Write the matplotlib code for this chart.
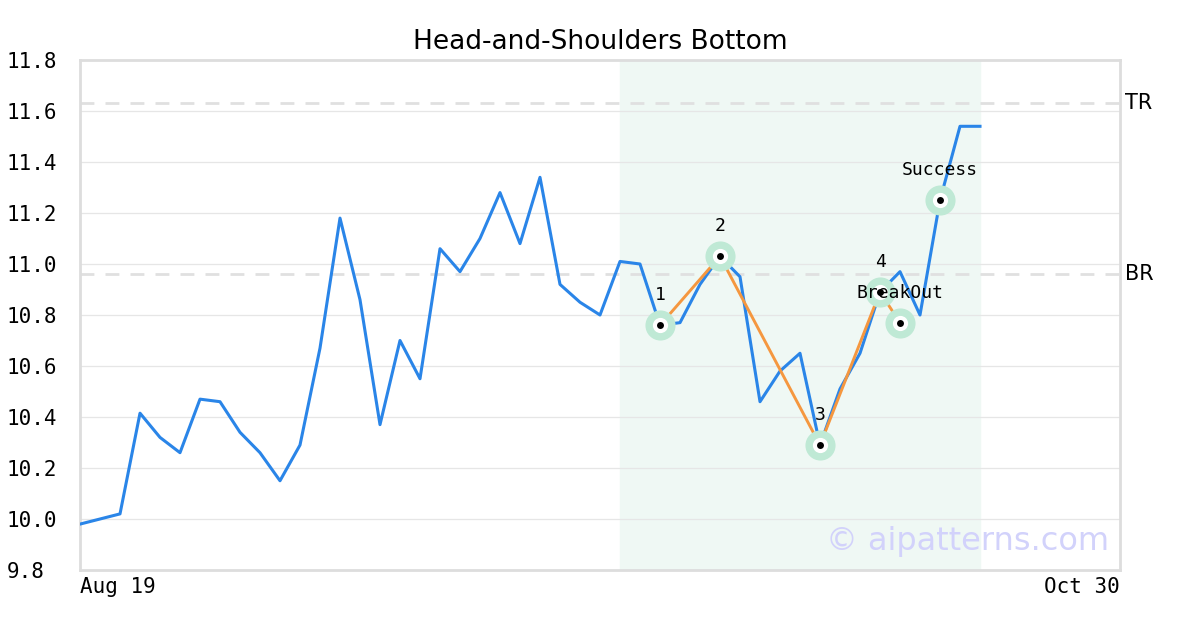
import matplotlib.pyplot as plt

# Price series (trading-day index, index 1 is absent in the source)
day_idx = [0] + list(range(2, 46))
price = [9.98, 10.02, 10.415, 10.32, 10.26, 10.47, 10.46, 10.34, 10.26, 10.15,
         10.29, 10.67, 11.18, 10.86, 10.37, 10.70, 10.55, 11.06, 10.97, 11.10,
         11.28, 11.08, 11.34, 10.92, 10.85, 10.80, 11.01, 11.00, 10.76, 10.77,
         10.92, 11.03, 10.95, 10.46, 10.58, 10.65, 10.29, 10.51, 10.65, 10.89,
         10.97, 10.80, 11.25, 11.54, 11.54]

# Pattern pivots
pivot_idx = [29, 32, 37, 40, 41]
pivot_val = [10.76, 11.03, 10.29, 10.89, 10.77]
pivot_lbl = ['1', '2', '3', '4', 'BreakOut']
success_idx = 43
success_val = 11.25

# Pattern window and resistance levels
window = (27, 45)
top_res = 11.63
break_res = 10.96

x_span = (0, 52)
x_labels = ['Aug 19', 'Oct 30']
y_ticks = [9.8, 10.0, 10.2, 10.4, 10.6, 10.8, 11.0, 11.2, 11.4, 11.6, 11.8]

fig = plt.figure(figsize=(12, 6.3), dpi=100)
ax = fig.add_axes([80/1200, 1 - 570/630, 1040/1200, 510/630])

ax.axvspan(window[0], window[1], color='#eff8f4', zorder=0)
ax.axhline(top_res, color='#e0e0e0', lw=2, ls=(0, (5, 4)), zorder=1)
ax.axhline(break_res, color='#e0e0e0', lw=2, ls=(0, (5, 4)), zorder=1)

ax.plot(day_idx, price, color='#2a85e8', lw=2.2, zorder=3)
ax.plot(pivot_idx, pivot_val, color='#f5973f', lw=2.1, zorder=4)

mk_x = pivot_idx + [success_idx]
mk_y = pivot_val + [success_val]
ax.scatter(mk_x, mk_y, s=470, color='#bfe9d5', zorder=5, linewidths=0)
ax.scatter(mk_x, mk_y, s=120, color='white', zorder=6, linewidths=0)
ax.scatter(mk_x, mk_y, s=25, color='black', zorder=7, linewidths=0)

for xi, yi, t in zip(mk_x, mk_y, pivot_lbl + ['Success']):
    ax.annotate(t, (xi, yi), xytext=(0, 21.6), textcoords='offset points',
                ha='center', va='center', fontsize=13,
                family='DejaVu Sans Mono', zorder=8)

ax.text(1.005, top_res, 'TR', transform=ax.get_yaxis_transform(),
        ha='left', va='center', fontsize=15)
ax.text(1.005, break_res, 'BR', transform=ax.get_yaxis_transform(),
        ha='left', va='center', fontsize=15)

ax.text(0.99, 0.055, '\u00a9 aipatterns.com', transform=ax.transAxes,
        ha='right', va='center', fontsize=23, color='#d2d2fb', zorder=2)

ax.set_xlim(*x_span)
ax.set_ylim(y_ticks[0], y_ticks[-1])
ax.set_yticks(y_ticks)
ax.set_yticklabels([f'{v:.1f}' for v in y_ticks], family='DejaVu Sans Mono',
                   fontsize=15, ha='left')
ax.set_xticks(list(x_span))
xt = ax.set_xticklabels(x_labels, family='DejaVu Sans Mono', fontsize=15)
xt[0].set_ha('left')
xt[1].set_ha('right')
ax.tick_params(axis='y', length=0, pad=53)
ax.tick_params(axis='x', length=0, pad=5)

ax.grid(axis='y', color='#e6e6e6', lw=0.9)
ax.set_axisbelow(True)
for sp in ax.spines.values():
    sp.set_color('#dddddd')
    sp.set_linewidth(2)

ax.set_title('Head-and-Shoulders Bottom', fontsize=19, pad=8)

fig.savefig('out.png', dpi=100)
